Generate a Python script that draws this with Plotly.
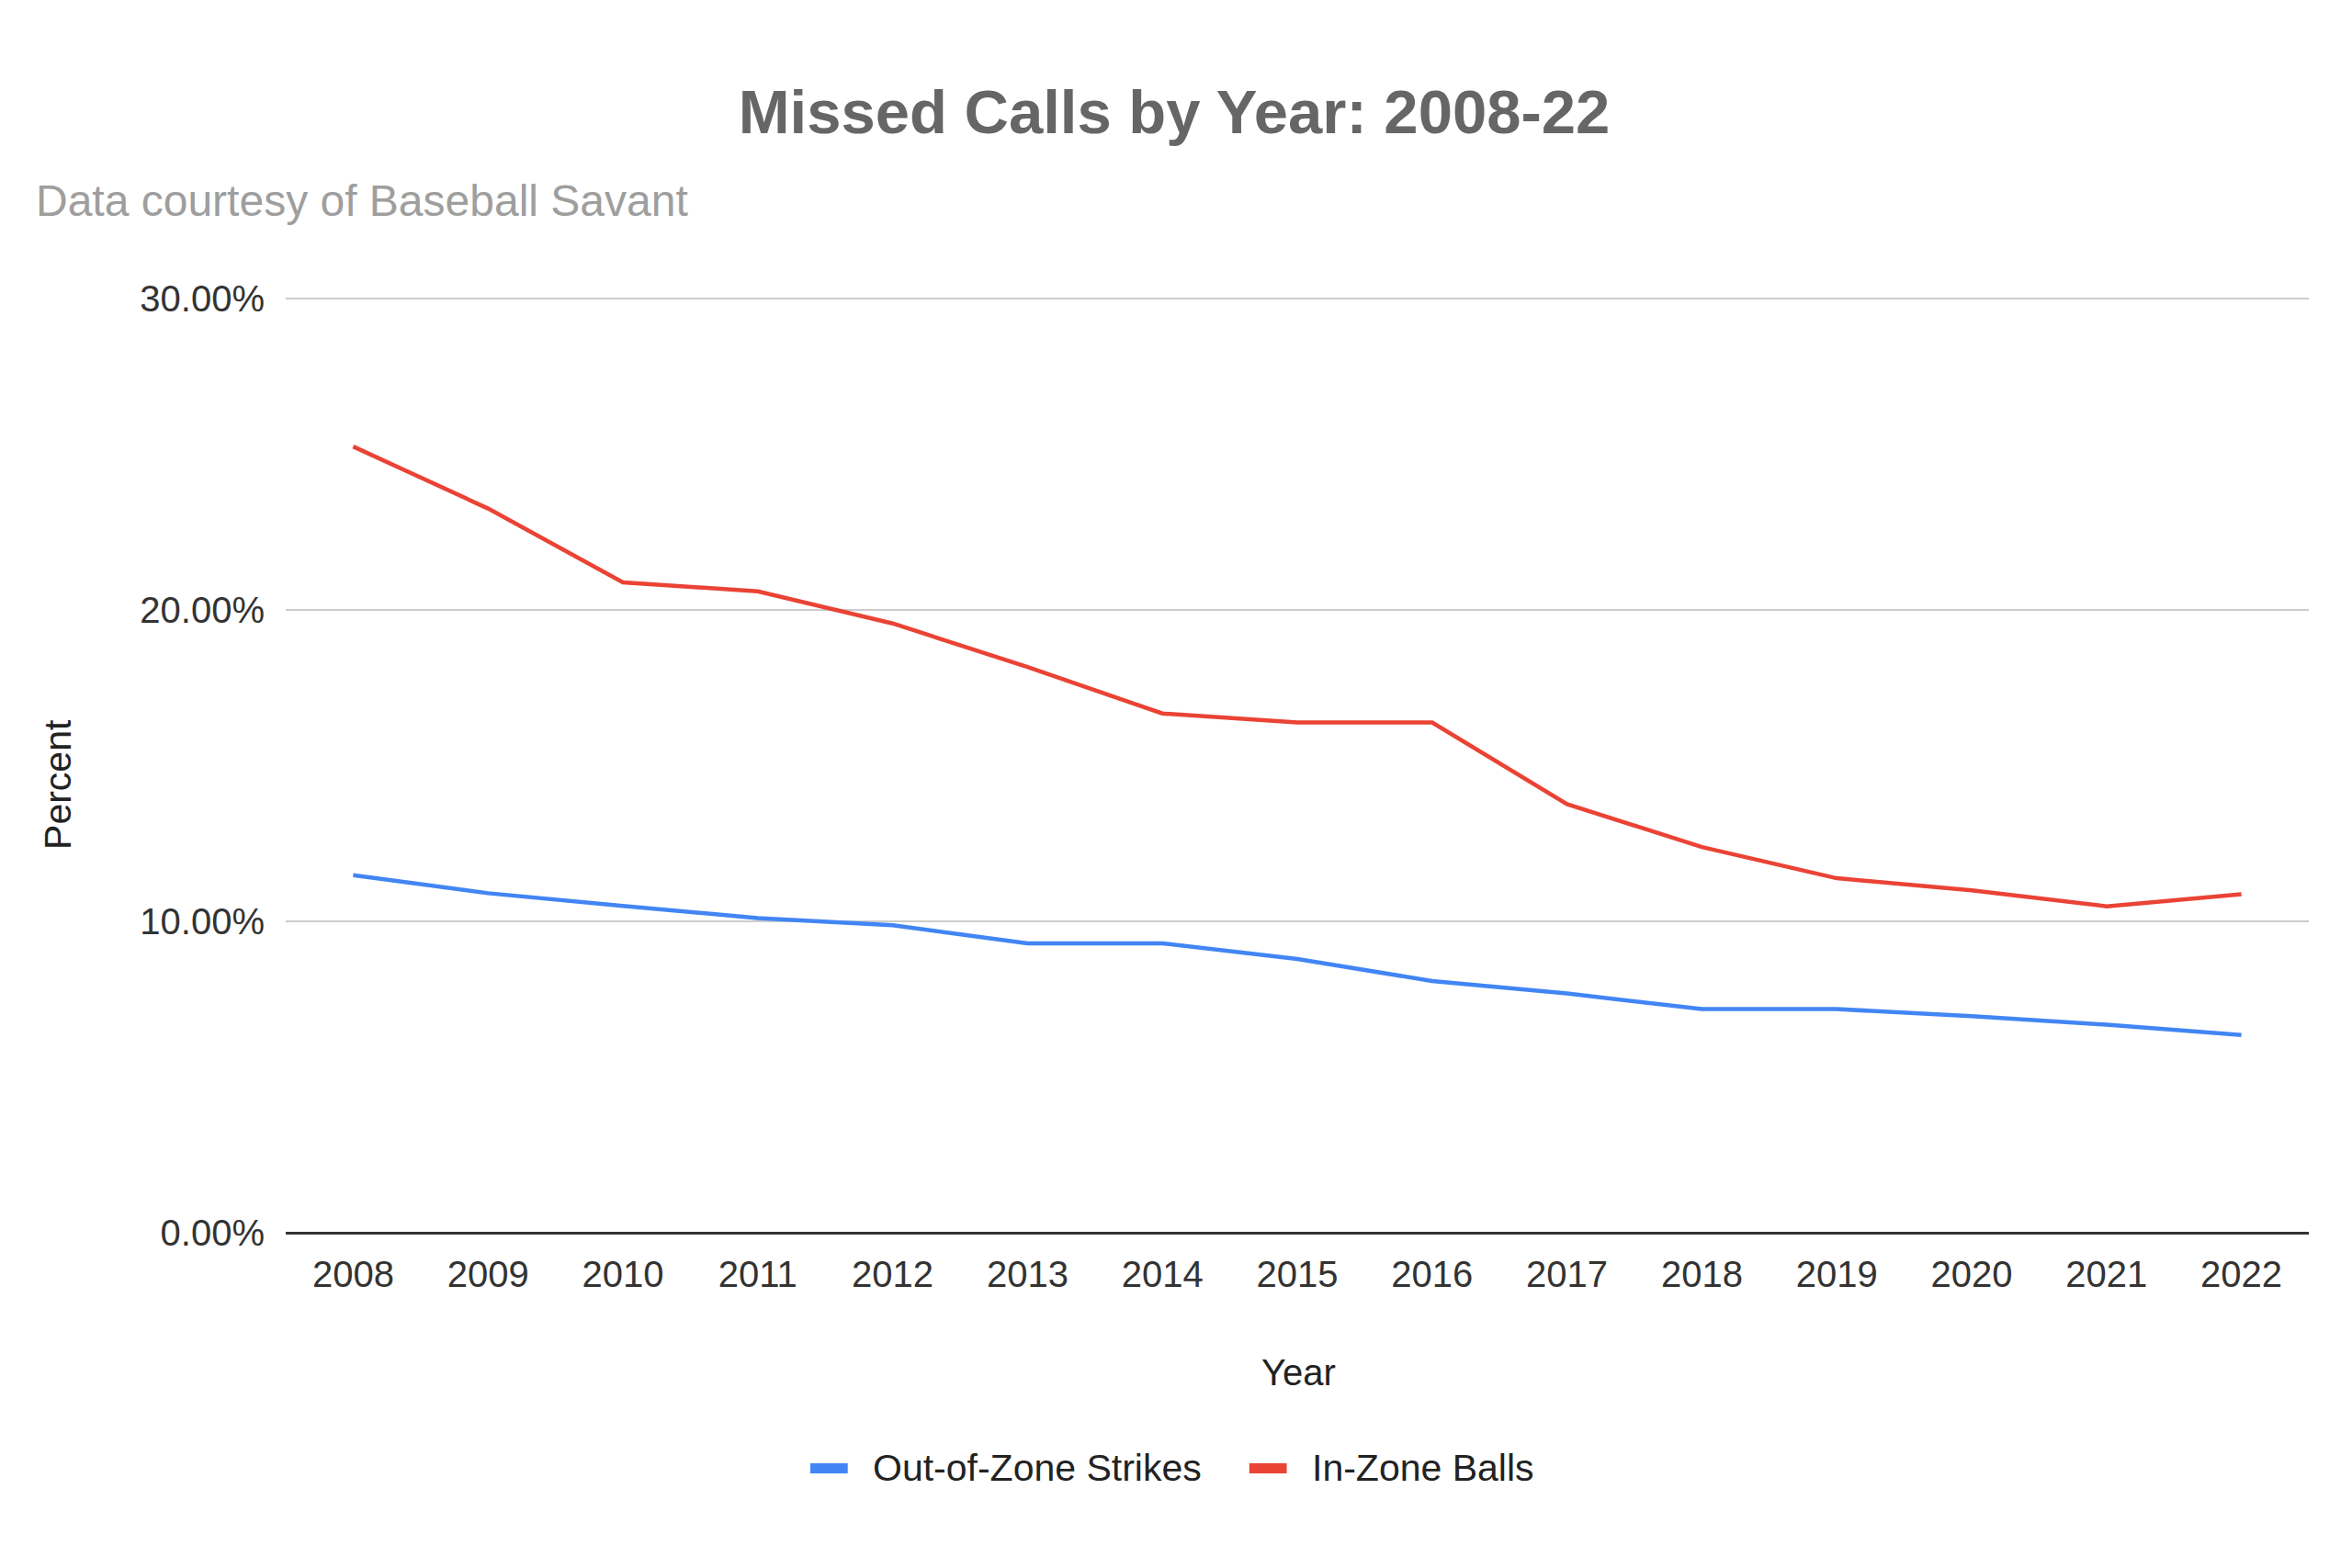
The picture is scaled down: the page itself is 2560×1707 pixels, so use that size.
import plotly.graph_objects as go

years = ["2008", "2009", "2010", "2011", "2012", "2013", "2014", "2015",
         "2016", "2017", "2018", "2019", "2020", "2021", "2022"]
out_of_zone_strikes = [11.48, 10.90, 10.49, 10.10, 9.87, 9.29, 9.29, 8.79,
                       8.08, 7.68, 7.18, 7.18, 6.95, 6.68, 6.35]
in_zone_balls = [25.24, 23.25, 20.88, 20.59, 19.56, 18.16, 16.67, 16.38,
                 16.38, 13.76, 12.38, 11.38, 10.99, 10.48, 10.87]
series_names = ["Out-of-Zone Strikes", "In-Zone Balls"]
series_colors = ["#4285F4", "#EA4335"]
y_tick_vals = [0, 10, 20, 30]
y_tick_labels = ["0.00%", "10.00%", "20.00%", "30.00%"]

FONT = "Liberation Sans, Arial, sans-serif"

fig = go.Figure()
for name, vals, col in zip(series_names, [out_of_zone_strikes, in_zone_balls], series_colors):
    fig.add_trace(go.Scatter(x=years, y=vals, mode="lines", name=name,
                             line=dict(color=col, width=4.5), showlegend=False))

fig.update_layout(
    width=2560, height=1707,
    paper_bgcolor="white", plot_bgcolor="white",
    margin=dict(l=303, r=55, t=315, b=373),
    font=dict(family=FONT, size=40, color="#222222"),
    title=dict(text="<b>Missed Calls by Year: 2008-22</b>",
               font=dict(family=FONT, size=67, color="#666666"),
               x=0.4961, xanchor="center", xref="container",
               y=1 - 114 / 1707, yanchor="middle", yref="container"),
    xaxis=dict(type="category", range=[-0.5, 14.5], showgrid=False,
               showline=False, zeroline=False, ticks="",
               tickfont=dict(size=40, color="#333333"),
               ticklabelstandoff=18, fixedrange=True),
    yaxis=dict(range=[0, 30.05], tickvals=y_tick_vals, ticktext=y_tick_labels,
               showgrid=True, gridcolor="#cccccc", gridwidth=2,
               zeroline=True, zerolinecolor="#333333", zerolinewidth=3,
               showline=False, ticks="",
               tickfont=dict(size=40, color="#333333"),
               ticklabelstandoff=22, fixedrange=True),
    showlegend=False,
)

# manual legend (swatch + label per series)
swatch_x = [(0.2593, 0.2778), (0.4763, 0.4948)]
label_x = [0.2892, 0.5062]
legend_y = -0.2516
for name, col, (x0, x1), lx in zip(series_names, series_colors, swatch_x, label_x):
    fig.add_shape(type="line", xref="paper", yref="paper", x0=x0, x1=x1,
                  y0=legend_y, y1=legend_y, line=dict(color=col, width=11))
    fig.add_annotation(text=name, xref="paper", yref="paper", x=lx, y=legend_y,
                       xanchor="left", yanchor="middle", showarrow=False,
                       font=dict(family=FONT, size=41, color="#222222"))

fig.add_annotation(text="Data courtesy of Baseball Savant", xref="paper", yref="paper",
                   x=-0.1245, y=1.1026, xanchor="left", yanchor="middle", showarrow=False,
                   font=dict(family=FONT, size=48, color="#9e9e9e"))
fig.add_annotation(text="Percent", xref="paper", yref="paper",
                   x=-0.1126, y=0.479, xanchor="center", yanchor="middle", showarrow=False,
                   textangle=-90, font=dict(family=FONT, size=41, color="#222222"))
fig.add_annotation(text="Year", xref="paper", yref="paper",
                   x=0.5007, y=-0.149, xanchor="center", yanchor="middle", showarrow=False,
                   font=dict(family=FONT, size=40, color="#222222"))

fig.write_html("out.html")
